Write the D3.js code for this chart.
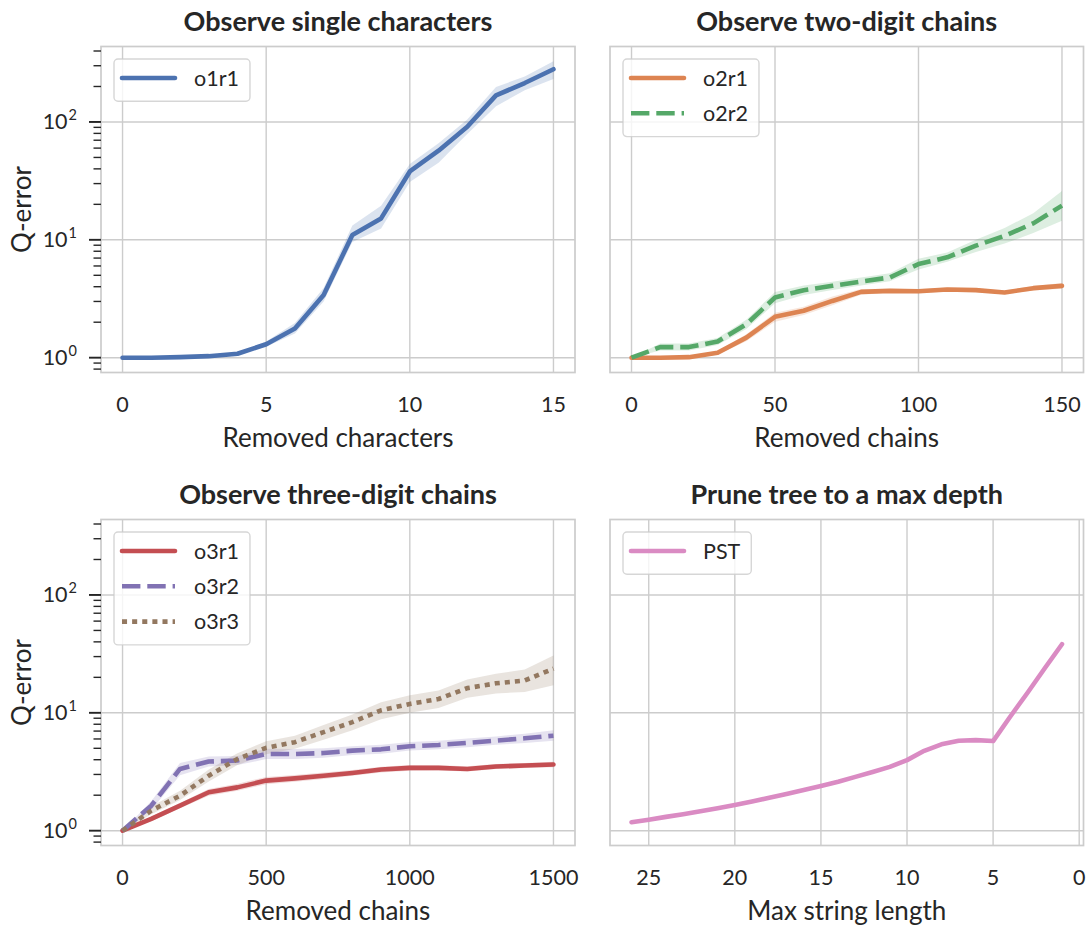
<!DOCTYPE html>
<html>
<head>
<meta charset="utf-8">
<script src="https://cdn.jsdelivr.net/npm/d3@7"></script>
<style>
  html, body { margin: 0; padding: 0; background: #ffffff; }
  svg { display: block; font-family: Lato, "Noto Sans", sans-serif; }
</style>
</head>
<body>
<svg id="chart" width="1090" height="927"></svg>
<script>
// ---------------- data ----------------
// x positions of each experiment
const removedChars      = [0, 1, 2, 3, 4, 5, 6, 7, 8, 9, 10, 11, 12, 13, 14, 15];
const removedTwoDigit   = [0, 10, 20, 30, 40, 50, 60, 70, 80, 90, 100, 110, 120, 130, 140, 150];
const removedThreeDigit = [0, 100, 200, 300, 400, 500, 600, 700, 800, 900, 1000, 1100, 1200, 1300, 1400, 1500];
const maxStringLength   = [26, 25, 24, 23, 22, 21, 20, 19, 18, 17, 16, 15, 14, 13, 12, 11, 10, 9, 8, 7, 6, 5, 4, 3, 2, 1];

// mean Q-error with lower / upper confidence bounds
const o1r1    = [1.0, 1.0, 1.01, 1.03, 1.08, 1.3, 1.77, 3.4, 11.0, 15.2, 38, 57, 91, 168, 214, 280];
const o1r1Lo  = [1.0, 1.0, 1.0, 1.02, 1.06, 1.24, 1.6, 3.0, 9.6, 12.5, 31, 45, 79, 136, 186, 232];
const o1r1Hi  = [1.0, 1.0, 1.02, 1.04, 1.1, 1.37, 1.97, 3.9, 13.2, 19.5, 44, 66, 105, 198, 243, 327];

const o2r1    = [1.0, 1.0, 1.01, 1.1, 1.48, 2.22, 2.5, 3.03, 3.62, 3.69, 3.66, 3.79, 3.74, 3.57, 3.89, 4.07];
const o2r1Lo  = [1.0, 1.0, 1.0, 1.06, 1.38, 2.02, 2.3, 2.78, 3.42, 3.55, 3.52, 3.64, 3.6, 3.45, 3.72, 3.85];
const o2r1Hi  = [1.0, 1.0, 1.02, 1.14, 1.58, 2.4, 2.7, 3.3, 3.82, 3.84, 3.8, 3.94, 3.88, 3.7, 4.06, 4.3];

const o2r2    = [1.0, 1.23, 1.23, 1.37, 1.92, 3.24, 3.74, 4.07, 4.43, 4.79, 6.23, 7.1, 8.92, 10.8, 13.8, 19.5];
const o2r2Lo  = [1.0, 1.15, 1.15, 1.28, 1.75, 2.9, 3.4, 3.75, 4.1, 4.45, 5.6, 6.5, 7.9, 9.3, 11.4, 14.5];
const o2r2Hi  = [1.0, 1.32, 1.32, 1.47, 2.1, 3.6, 4.1, 4.4, 4.8, 5.2, 6.9, 7.8, 10.0, 12.6, 16.8, 26];

const o3r1    = [1.0, 1.26, 1.63, 2.12, 2.33, 2.66, 2.78, 2.92, 3.09, 3.3, 3.41, 3.41, 3.34, 3.5, 3.57, 3.64];
const o3r1Lo  = [1.0, 1.2, 1.55, 1.98, 2.18, 2.48, 2.6, 2.74, 2.92, 3.12, 3.23, 3.24, 3.18, 3.33, 3.4, 3.46];
const o3r1Hi  = [1.0, 1.32, 1.72, 2.26, 2.5, 2.86, 2.97, 3.11, 3.27, 3.48, 3.6, 3.59, 3.52, 3.68, 3.76, 3.84];

const o3r2    = [1.0, 1.63, 3.34, 3.86, 3.94, 4.47, 4.47, 4.56, 4.78, 4.9, 5.2, 5.34, 5.56, 5.81, 6.08, 6.4];
const o3r2Lo  = [1.0, 1.5, 2.95, 3.5, 3.6, 4.05, 4.05, 4.15, 4.38, 4.5, 4.78, 4.92, 5.1, 5.35, 5.55, 5.8];
const o3r2Hi  = [1.0, 1.78, 3.75, 4.25, 4.3, 4.95, 4.93, 5.0, 5.2, 5.35, 5.65, 5.8, 6.05, 6.3, 6.65, 7.1];

const o3r3    = [1.0, 1.48, 1.98, 2.93, 4.06, 5.05, 5.64, 6.86, 8.34, 10.5, 11.9, 13.1, 16.2, 17.8, 18.8, 23.7];
const o3r3Lo  = [1.0, 1.38, 1.82, 2.62, 3.6, 4.45, 4.95, 5.9, 7.1, 8.8, 10.0, 11.0, 13.4, 14.6, 15.0, 17.1];
const o3r3Hi  = [1.0, 1.6, 2.18, 3.3, 4.55, 5.75, 6.4, 7.9, 9.7, 12.3, 14.1, 15.5, 19.2, 21.5, 23.3, 30.7];

const pst     = [1.18, 1.24, 1.31, 1.38, 1.46, 1.55, 1.65, 1.77, 1.9, 2.05, 2.21, 2.39, 2.6, 2.86, 3.15, 3.48, 3.97, 4.76, 5.4, 5.79, 5.87, 5.76, 9.3, 14.8, 23.9, 38.2];
const pstLo   = [1.18, 1.24, 1.31, 1.38, 1.46, 1.55, 1.65, 1.77, 1.9, 2.05, 2.21, 2.39, 2.6, 2.86, 3.15, 3.48, 3.96, 4.74, 5.38, 5.77, 5.85, 5.73, 9.1, 14.4, 23.1, 36.6];
const pstHi   = [1.18, 1.24, 1.31, 1.38, 1.46, 1.55, 1.65, 1.77, 1.9, 2.05, 2.21, 2.39, 2.6, 2.86, 3.15, 3.48, 3.98, 4.78, 5.42, 5.81, 5.89, 5.79, 9.5, 15.2, 24.7, 39.9];

// tick values and labels
const ticksChars      = [0, 5, 10, 15];
const ticksTwoDigit   = [0, 50, 100, 150];
const ticksThreeDigit = [0, 500, 1000, 1500];
const ticksMaxLen     = [25, 20, 15, 10, 5, 0];
const yMajorTicks     = [1, 10, 100];
const yMajorExponents = ["0", "1", "2"];

const titles  = ["Observe single characters", "Observe two-digit chains", "Observe three-digit chains", "Prune tree to a max depth"];
const xLabels = ["Removed characters", "Removed chains", "Removed chains", "Max string length"];
const yLabel  = "Q-error";

// seaborn "deep" colours
const palette = {
  blue: "#4c72b0", orange: "#dd8452", green: "#55a868", red: "#c44e52",
  purple: "#8172b3", brown: "#937860", pink: "#da8bc3"
};

// ---------------- layout ----------------
const colSpan = [[101, 575], [610, 1083.5]];
const rowSpan = [[46.5, 372.5], [519.5, 845.5]];
const ink = "#262626";
const gridColor = "#cccccc";
const LW = 4.6;
const dashLong = `${4 * LW},${1.5 * LW}`;
const dashDot  = `${1.1 * LW},${1.1 * LW}`;
const fontTick = 21.5, fontLabel = 26, fontTitle = 27, fontLegend = 21.5;

const panels = [
  { row: 0, col: 0, x: removedChars, ticks: ticksChars, reverse: false,
    series: [{ name: "o1r1", y: o1r1, lo: o1r1Lo, hi: o1r1Hi, color: palette.blue, dash: null }] },
  { row: 0, col: 1, x: removedTwoDigit, ticks: ticksTwoDigit, reverse: false,
    series: [{ name: "o2r1", y: o2r1, lo: o2r1Lo, hi: o2r1Hi, color: palette.orange, dash: null },
             { name: "o2r2", y: o2r2, lo: o2r2Lo, hi: o2r2Hi, color: palette.green, dash: dashLong }] },
  { row: 1, col: 0, x: removedThreeDigit, ticks: ticksThreeDigit, reverse: false,
    series: [{ name: "o3r1", y: o3r1, lo: o3r1Lo, hi: o3r1Hi, color: palette.red, dash: null },
             { name: "o3r2", y: o3r2, lo: o3r2Lo, hi: o3r2Hi, color: palette.purple, dash: dashLong },
             { name: "o3r3", y: o3r3, lo: o3r3Lo, hi: o3r3Hi, color: palette.brown, dash: dashDot }] },
  { row: 1, col: 1, x: maxStringLength, ticks: ticksMaxLen, reverse: true,
    series: [{ name: "PST", y: pst, lo: pstLo, hi: pstHi, color: palette.pink, dash: null }] }
];

// shared log y-domain with 5% padding in log space
const allLo = d3.min(panels.flatMap(p => p.series.flatMap(s => s.lo)));
const allHi = d3.max(panels.flatMap(p => p.series.flatMap(s => s.hi)));
const l0 = Math.log10(allLo), l1 = Math.log10(allHi), lp = (l1 - l0) * 0.05;
const yDomain = [Math.pow(10, l0 - lp), Math.pow(10, l1 + lp)];

// minor ticks inside the domain
const yMinorTicks = [];
[0.1, 1, 10, 100].forEach(dec => {
  for (let k = 2; k <= 9; k++) {
    const v = dec * k;
    if (v >= yDomain[0] && v <= yDomain[1]) yMinorTicks.push(v);
  }
});

const svg = d3.select("#chart");

panels.forEach((p, pi) => {
  const [x0, x1] = colSpan[p.col];
  const [y0, y1] = rowSpan[p.row];
  const [xmin, xmax] = d3.extent(p.x);
  const xp = (xmax - xmin) * 0.05;
  const xDomain = p.reverse ? [xmax + xp, xmin - xp] : [xmin - xp, xmax + xp];
  const xs = d3.scaleLinear().domain(xDomain).range([x0, x1]);
  const ys = d3.scaleLog().domain(yDomain).range([y1, y0]);

  const g = svg.append("g").attr("class", "panel");

  // grid
  const grid = g.append("g").attr("class", "grid");
  grid.selectAll("line.v").data(p.ticks).join("line")
    .attr("class", "v")
    .attr("x1", d => xs(d)).attr("x2", d => xs(d))
    .attr("y1", y0).attr("y2", y1)
    .attr("stroke", gridColor).attr("stroke-width", 1.4);
  grid.selectAll("line.h").data(yMajorTicks).join("line")
    .attr("class", "h")
    .attr("x1", x0).attr("x2", x1)
    .attr("y1", d => ys(d)).attr("y2", d => ys(d))
    .attr("stroke", gridColor).attr("stroke-width", 1.4);

  // confidence bands
  p.series.forEach(s => {
    const pts = p.x.map((xv, i) => ({ x: xv, lo: s.lo[i], hi: s.hi[i] }));
    const band = d3.area().x(d => xs(d.x)).y0(d => ys(d.lo)).y1(d => ys(d.hi));
    g.append("path").attr("d", band(pts))
      .attr("fill", s.color).attr("fill-opacity", 0.2).attr("stroke", "none");
  });

  // mean lines
  p.series.forEach(s => {
    const pts = p.x.map((xv, i) => ({ x: xv, y: s.y[i] }));
    const line = d3.line().x(d => xs(d.x)).y(d => ys(d.y));
    g.append("path").attr("d", line(pts))
      .attr("fill", "none").attr("stroke", s.color).attr("stroke-width", LW)
      .attr("stroke-linejoin", "round")
      .attr("stroke-linecap", s.dash ? "butt" : "round")
      .attr("stroke-dasharray", s.dash);
  });

  // frame
  g.append("rect")
    .attr("x", x0).attr("y", y0).attr("width", x1 - x0).attr("height", y1 - y0)
    .attr("fill", "none").attr("stroke", gridColor).attr("stroke-width", 1.7);

  // x tick labels
  g.selectAll("text.xt").data(p.ticks).join("text")
    .attr("class", "xt")
    .attr("x", d => xs(d)).attr("y", y1 + 39.5)
    .attr("text-anchor", "middle").attr("fill", ink)
    .attr("font-size", fontTick)
    .text(d => String(d));

  // x label
  g.append("text")
    .attr("x", (x0 + x1) / 2).attr("y", y1 + 74.5)
    .attr("text-anchor", "middle").attr("fill", ink)
    .attr("font-size", fontLabel)
    .text(xLabels[pi]);

  // title
  g.append("text")
    .attr("x", (x0 + x1) / 2).attr("y", y0 - 15.5)
    .attr("text-anchor", "middle").attr("fill", ink)
    .attr("font-size", fontTitle).attr("font-weight", "bold")
    .text(titles[pi]);

  // y axis (left column only)
  if (p.col === 0) {
    g.selectAll("line.ymaj").data(yMajorTicks).join("line")
      .attr("class", "ymaj")
      .attr("x1", x0 - 12).attr("x2", x0)
      .attr("y1", d => ys(d)).attr("y2", d => ys(d))
      .attr("stroke", ink).attr("stroke-width", 1.9);
    g.selectAll("line.ymin").data(yMinorTicks).join("line")
      .attr("class", "ymin")
      .attr("x1", x0 - 7.5).attr("x2", x0)
      .attr("y1", d => ys(d)).attr("y2", d => ys(d))
      .attr("stroke", ink).attr("stroke-width", 1.4);
    const lab = g.selectAll("text.yt").data(yMajorTicks).join("text")
      .attr("class", "yt")
      .attr("x", x0 - 24).attr("y", d => ys(d) + 7.5)
      .attr("text-anchor", "end").attr("fill", ink)
      .attr("font-size", fontTick);
    lab.append("tspan").text("10");
    lab.append("tspan").attr("dy", -9).attr("dx", 1).attr("font-size", 14.5)
      .text((d, i) => yMajorExponents[i]);

    g.append("text")
      .attr("transform", `translate(31,${(y0 + y1) / 2}) rotate(-90)`)
      .attr("text-anchor", "middle").attr("fill", ink)
      .attr("font-size", fontLabel)
      .text(yLabel);
  }

  // legend
  const lx = x0 + 13, ly = y0 + 12.5, rowH = 35.3;
  const leg = g.append("g").attr("class", "legend");
  const box = leg.append("rect");
  let maxRight = 0;
  p.series.forEach((s, i) => {
    const cy = ly + 19 + i * rowH;
    leg.append("line")
      .attr("x1", lx + 8).attr("x2", lx + 61).attr("y1", cy).attr("y2", cy)
      .attr("stroke", s.color).attr("stroke-width", LW)
      .attr("stroke-linecap", s.dash ? "butt" : "round")
      .attr("stroke-dasharray", s.dash);
    const t = leg.append("text")
      .attr("x", lx + 80).attr("y", cy + 7.7)
      .attr("fill", ink).attr("font-size", fontLegend)
      .text(s.name);
    maxRight = Math.max(maxRight, lx + 80 + t.node().getComputedTextLength());
  });
  const boxH = 19 + (p.series.length - 1) * rowH + 23.3;
  box.attr("x", lx).attr("y", ly)
    .attr("width", maxRight + 11 - lx).attr("height", boxH)
    .attr("rx", 4).attr("ry", 4)
    .attr("fill", "#ffffff").attr("fill-opacity", 0.8)
    .attr("stroke", gridColor).attr("stroke-opacity", 0.8).attr("stroke-width", 1.4);
});
</script>
</body>
</html>
